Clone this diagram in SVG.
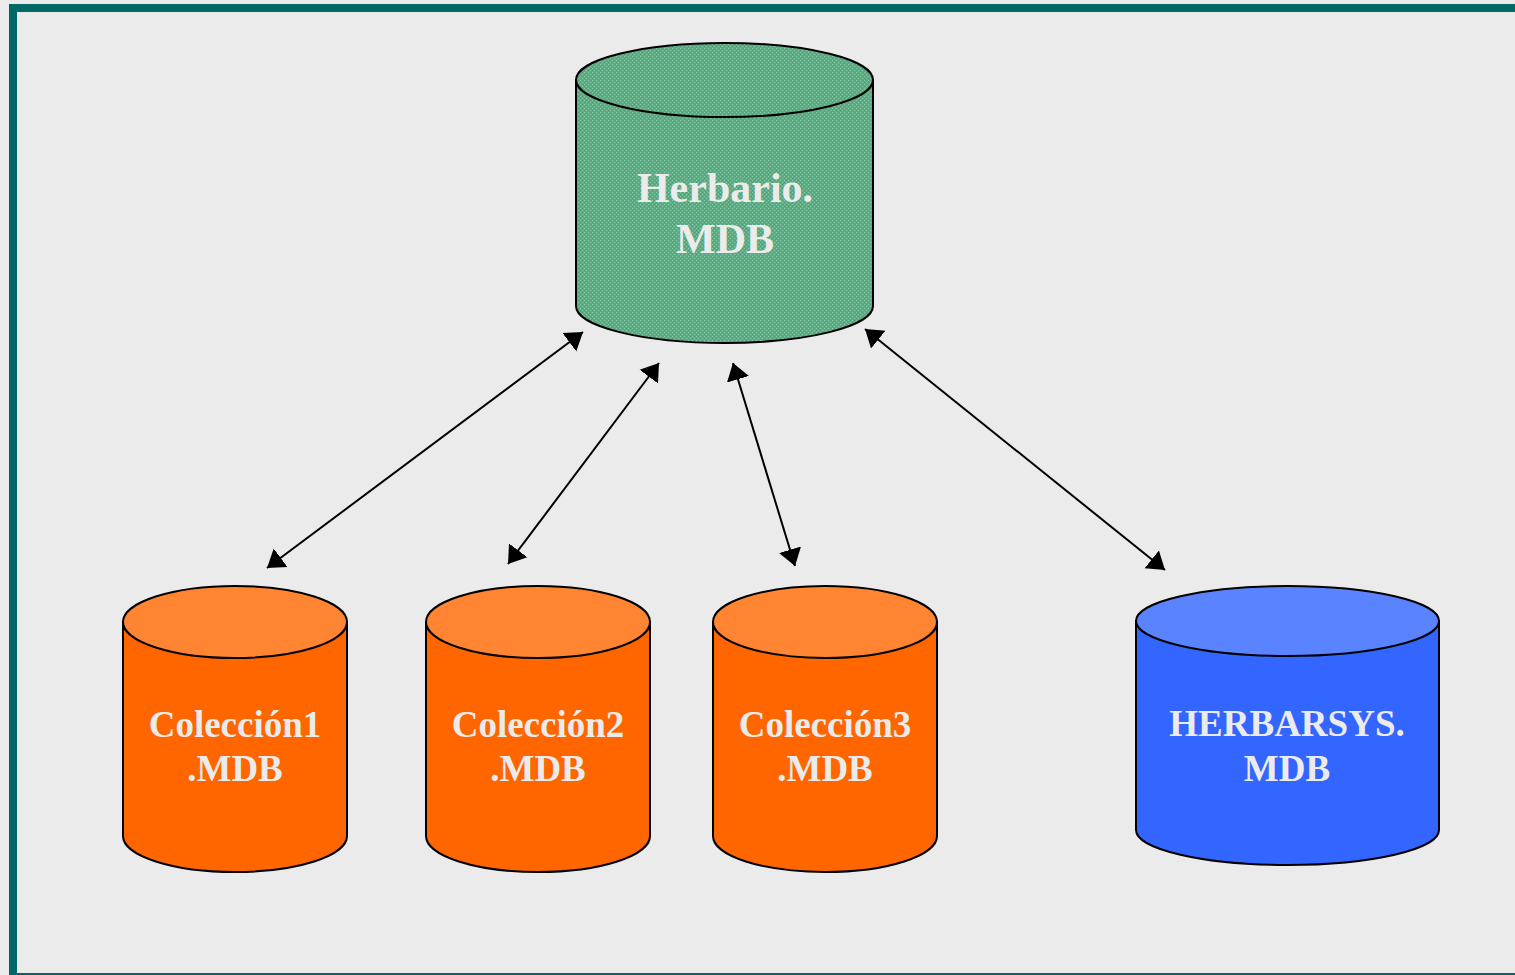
<svg xmlns="http://www.w3.org/2000/svg" width="1515" height="975" viewBox="0 0 1515 975">
  <style>
    .lbl { font-family: "Liberation Serif", "Times New Roman", serif; font-weight: bold; fill: #ebebeb; text-anchor: middle; }
    .edge { stroke: #000; stroke-width: 2; fill: none; marker-start: url(#ah); marker-end: url(#ah); }
    .outline { stroke: #000; stroke-width: 2; }
  </style>
  <defs>
    <marker id="ah" viewBox="0 -12 18 24" refX="17" refY="0" markerWidth="18" markerHeight="24" markerUnits="userSpaceOnUse" orient="auto-start-reverse">
      <path d="M0,-11.5 L17,0 L0,11.5 z" fill="#000"/>
    </marker>
    <pattern id="greenTex" width="4" height="4" patternUnits="userSpaceOnUse">
      <rect width="4" height="4" fill="#5aae85"/>
      <rect x="0" y="0" width="1" height="1" fill="#86c9a5"/>
      <rect x="2" y="2" width="1" height="1" fill="#86c9a5"/>
      <rect x="2" y="0" width="1" height="1" fill="#4f9f78"/>
      <rect x="0" y="2" width="1" height="1" fill="#4f9f78"/>
    </pattern>
  </defs>

  <rect x="0" y="0" width="1515" height="975" fill="#ebebeb"/>
  <rect id="frame" x="13" y="8" width="1530" height="969" fill="#ebebeb" stroke="#006966" stroke-width="8"/>

  <g id="connectors">
    <line class="edge" x1="583" y1="332" x2="267" y2="568"/>
    <line class="edge" x1="659" y1="363" x2="508" y2="564"/>
    <line class="edge" x1="733" y1="363" x2="795" y2="566"/>
    <line class="edge" x1="865" y1="329" x2="1165" y2="570"/>
  </g>

  <g id="herbario">
    <path class="outline" fill="url(#greenTex)" d="M576,80 L576,306 A148.5,37 0 0 0 873,306 L873,80 Z"/>
    <ellipse class="outline" fill="url(#greenTex)" cx="724.5" cy="80" rx="148.5" ry="37"/>
    <text class="lbl" font-size="42" x="725" y="202">Herbario.</text>
    <text class="lbl" font-size="42" x="725" y="253">MDB</text>
  </g>

  <g id="coleccion1">
    <path class="outline" fill="#ff6600" d="M123,622 L123,836 A112,36 0 0 0 347,836 L347,622 Z"/>
    <ellipse class="outline" fill="#ff8533" cx="235" cy="622" rx="112" ry="36"/>
    <text class="lbl" font-size="37" x="235" y="737">Colección1</text>
    <text class="lbl" font-size="37" x="235" y="781">.MDB</text>
  </g>

  <g id="coleccion2">
    <path class="outline" fill="#ff6600" d="M426,622 L426,836 A112,36 0 0 0 650,836 L650,622 Z"/>
    <ellipse class="outline" fill="#ff8533" cx="538" cy="622" rx="112" ry="36"/>
    <text class="lbl" font-size="37" x="538" y="737">Colección2</text>
    <text class="lbl" font-size="37" x="538" y="781">.MDB</text>
  </g>

  <g id="coleccion3">
    <path class="outline" fill="#ff6600" d="M713,622 L713,836 A112,36 0 0 0 937,836 L937,622 Z"/>
    <ellipse class="outline" fill="#ff8533" cx="825" cy="622" rx="112" ry="36"/>
    <text class="lbl" font-size="37" x="825" y="737">Colección3</text>
    <text class="lbl" font-size="37" x="825" y="781">.MDB</text>
  </g>

  <g id="herbarsys">
    <path class="outline" fill="#3366ff" d="M1136,621 L1136,830 A151.5,35 0 0 0 1439,830 L1439,621 Z"/>
    <ellipse class="outline" fill="#5983ff" cx="1287.5" cy="621" rx="151.5" ry="35"/>
    <text class="lbl" font-size="37" x="1287" y="736">HERBARSYS.</text>
    <text class="lbl" font-size="37" x="1287" y="781">MDB</text>
  </g>
</svg>
